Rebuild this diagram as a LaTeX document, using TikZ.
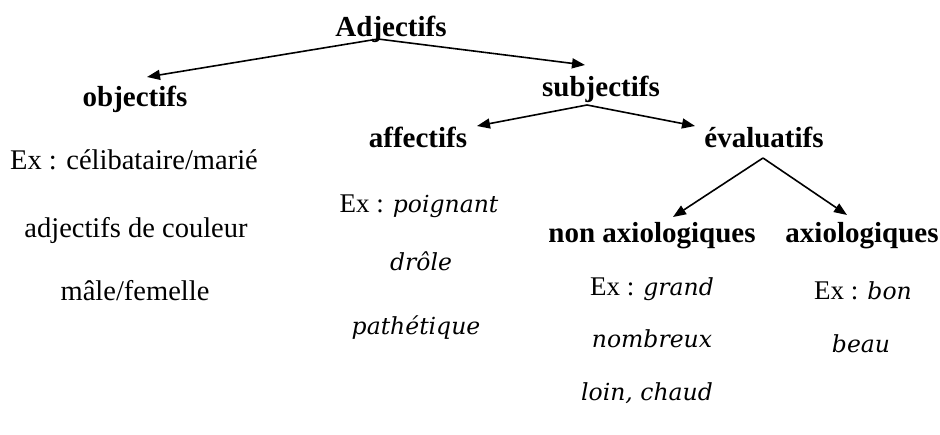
\documentclass[tikz,border=0pt]{standalone}
\usepackage{fontspec}
\setmainfont{Liberation Serif}
\newfontfamily\exitfont{DejaVu Serif}
\usetikzlibrary{arrows.meta,calc}

\newcommand{\headsize}{\fontsize{29}{34}\selectfont\bfseries}
\newcommand{\leftsize}{\fontsize{28.5}{34}\selectfont}
\newcommand{\exsize}{\fontsize{27}{30}\selectfont}
\newcommand{\exword}[1]{{\exitfont\itshape\fontsize{23.5}{26}\selectfont #1}}

\begin{document}
\begin{tikzpicture}[x=1pt,y=-1pt,
  head/.style={font=\headsize, inner sep=0pt, anchor=base},
  leftex/.style={font=\leftsize, inner sep=0pt, anchor=base},
  ex/.style={font=\exsize, inner sep=0pt, anchor=base},
  branch/.style={line width=1.6pt, -{Triangle[length=13pt,width=10pt]}}]
\useasboundingbox (0,0) rectangle (940,435);

% category headings
\node[head] (adj)   at (391,37)  {Adjectifs};
\node[head] (obj)   at (135,107) {objectifs};
\node[head] (subj)  at (601,97)  {subjectifs};
\node[head] (aff)   at (418,148) {affectifs};
\node[head] (eval)  at (764,148) {évaluatifs};
\node[head] (nonax) at (652,243) {non axiologiques};
\node[head] (ax)    at (862,243) {axiologiques};

% examples under "objectifs"
\node[leftex] (o1) at (134,170) {Ex : célibataire/marié};
\node[leftex] (o2) at (136,238) {adjectifs de couleur};
\node[leftex] (o3) at (135,301) {mâle/femelle};

% examples under "affectifs"
\node[ex] (a1) at (419,213) {Ex : \exword{poignant}};
\node[ex] (a2) at (421,271) {\exword{drôle}};
\node[ex] (a3) at (416,335) {\exword{pathétique}};

% examples under "non axiologiques"
\node[ex] (n1) at (652,296) {Ex : \exword{grand}};
\node[ex] (n2) at (652,348) {\exword{nombreux}};
\node[ex] (n3) at (647,401) {\exword{loin, chaud}};

% examples under "axiologiques"
\node[ex] (x1) at (863,300) {Ex : \exword{bon}};
\node[ex] (x2) at (861,353) {\exword{beau}};

% branch points and arrow tips
\coordinate (adjfoot)  at (378,39);
\coordinate (objtip)   at (147,77);
\coordinate (subjtip)  at (585,65);
\coordinate (subjfoot) at (587,105);
\coordinate (afftip)   at (477,126);
\coordinate (evaltip)  at (695,126);
\coordinate (evalfoot) at (763,158);
\coordinate (nonaxtip) at (673,217);
\coordinate (axtip)    at (847,215);

\draw[branch] (adjfoot) -- (objtip);
\draw[branch] (adjfoot) -- (subjtip);
\draw[branch] (subjfoot) -- (afftip);
\draw[branch] (subjfoot) -- (evaltip);
\draw[branch] (evalfoot) -- (nonaxtip);
\draw[branch] (evalfoot) -- (axtip);
\end{tikzpicture}
\end{document}
